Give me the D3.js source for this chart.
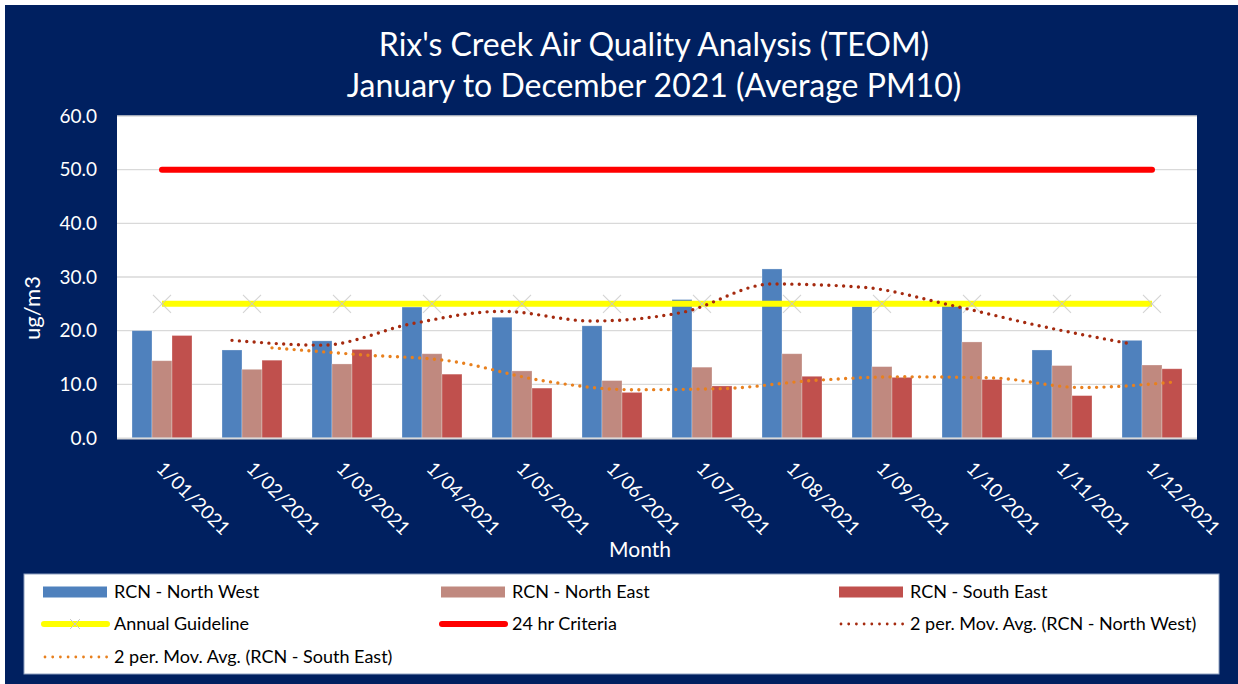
<!DOCTYPE html>
<html>
<head>
<meta charset="utf-8">
<script src="https://cdn.jsdelivr.net/npm/d3@7"></script>
<style>
  html, body { margin: 0; padding: 0; background: #ffffff; }
  svg { display: block; }
  text { font-family: Lato, "Open Sans", sans-serif; }
</style>
</head>
<body>
<svg id="chart" width="1238" height="684"></svg>
<script>
// ---- data ----
const categories = ["1/01/2021","1/02/2021","1/03/2021","1/04/2021","1/05/2021","1/06/2021",
                    "1/07/2021","1/08/2021","1/09/2021","1/10/2021","1/11/2021","1/12/2021"];
const seriesNames = ["RCN - North West", "RCN - North East", "RCN - South East"];
const northWest = [20.0, 16.4, 18.1, 24.4, 22.5, 20.9, 25.8, 31.5, 24.5, 24.6, 16.4, 18.2];
const northEast = [14.4, 12.8, 13.8, 15.7, 12.5, 10.7, 13.2, 15.7, 13.3, 17.9, 13.5, 13.6];
const southEast = [19.1, 14.5, 16.5, 11.9, 9.3, 8.5, 9.7, 11.5, 11.3, 10.9, 7.9, 12.9];
const annualGuideline = [25, 25, 25, 25, 25, 25, 25, 25, 25, 25, 25, 25];
const criteria24hr = [50, 50, 50, 50, 50, 50, 50, 50, 50, 50, 50, 50];
// 2-period moving averages (Feb..Dec)
const maNorthWest = [18.2, 17.3, 21.3, 23.6, 21.8, 23.4, 28.7, 28.1, 24.7, 20.8, 17.5];
const maSouthEast = [16.8, 15.5, 14.3, 10.7, 9.0, 9.2, 10.7, 11.4, 11.2, 9.4, 10.4];
const yTicks = [0, 10, 20, 30, 40, 50, 60];

const titleLines = ["Rix's Creek Air Quality Analysis (TEOM)", "January to December 2021 (Average PM10)"];
const colors = {
  "RCN - North West": "#4F81BD",
  "RCN - North East": "#C0897F",
  "RCN - South East": "#C0504D"
};

// ---- layout ----
const svg = d3.select("#chart");
const W = 1238, H = 684;
const plot = { left: 117, right: 1197, top: 116, bottom: 438 };

svg.append("rect").attr("x", 0).attr("y", 0).attr("width", W).attr("height", H).attr("fill", "#ffffff");
svg.append("rect").attr("x", 5).attr("y", 5).attr("width", W - 5).attr("height", H - 5).attr("fill", "#002060");

// title
svg.append("g").selectAll("text").data(titleLines).join("text")
  .attr("x", 654).attr("y", (d, i) => 56 + i * 41)
  .attr("text-anchor", "middle").attr("fill", "#ffffff")
  .attr("font-size", 32).text(d => d);

// plot background
svg.append("rect").attr("x", plot.left).attr("y", plot.top)
  .attr("width", plot.right - plot.left).attr("height", plot.bottom - plot.top)
  .attr("fill", "#ffffff");

const x0 = d3.scaleBand().domain(categories).range([plot.left, plot.right])
  .paddingInner(1 / 3).paddingOuter(1 / 6);
const x1 = d3.scaleBand().domain(seriesNames).range([0, x0.bandwidth()]);
const y = d3.scaleLinear().domain([0, 60]).range([plot.bottom, plot.top]);
const cx = c => x0(c) + x0.bandwidth() / 2;

// gridlines
svg.append("g").selectAll("line").data(yTicks.filter(t => t > 0)).join("line")
  .attr("x1", plot.left).attr("x2", plot.right)
  .attr("y1", d => y(d)).attr("y2", d => y(d))
  .attr("stroke", "#D9D9D9").attr("stroke-width", 1.3);

// y axis labels
const yAxis = d3.axisLeft(y).tickValues(yTicks).tickFormat(d3.format(".1f")).tickSize(0).tickPadding(20);
const gy = svg.append("g").attr("transform", `translate(${plot.left},0)`).call(yAxis);
gy.select(".domain").remove();
gy.selectAll("text").attr("fill", "#ffffff").attr("font-size", 19).attr("font-family", "Lato, sans-serif");

// bars
const barData = [];
categories.forEach((c, i) => {
  barData.push({ c, s: seriesNames[0], v: northWest[i] });
  barData.push({ c, s: seriesNames[1], v: northEast[i] });
  barData.push({ c, s: seriesNames[2], v: southEast[i] });
});
svg.append("g").selectAll("rect").data(barData).join("rect")
  .attr("x", d => x0(d.c) + x1(d.s))
  .attr("y", d => y(d.v))
  .attr("width", x1.bandwidth())
  .attr("height", d => y(0) - y(d.v))
  .attr("fill", d => colors[d.s])
  .attr("stroke", "#ffffff").attr("stroke-opacity", 0.35).attr("stroke-width", 0.8);

// x axis line
svg.append("line").attr("x1", plot.left).attr("x2", plot.right)
  .attr("y1", plot.bottom + 0.5).attr("y2", plot.bottom + 0.5)
  .attr("stroke", "#D9D9D9").attr("stroke-width", 2);

// horizontal reference lines
const refLine = d3.line().x((d, i) => cx(categories[i])).y(d => y(d));
svg.append("path").datum(criteria24hr).attr("d", refLine)
  .attr("fill", "none").attr("stroke", "#FF0000").attr("stroke-width", 6).attr("stroke-linecap", "round");
svg.append("path").datum(annualGuideline).attr("d", refLine)
  .attr("fill", "none").attr("stroke", "#FFFF00").attr("stroke-width", 6).attr("stroke-linecap", "butt");

// x markers on annual guideline
const mk = 9;
const markers = svg.append("g").selectAll("g").data(annualGuideline).join("g")
  .attr("transform", (d, i) => `translate(${cx(categories[i])},${y(d)})`);
markers.append("line").attr("x1", -mk).attr("y1", -mk).attr("x2", mk).attr("y2", mk);
markers.append("line").attr("x1", -mk).attr("y1", mk).attr("x2", mk).attr("y2", -mk);
markers.selectAll("line").attr("stroke", "#C8C8C8").attr("stroke-width", 1.1).attr("stroke-opacity", 0.8);

// moving averages (aligned on series bar centres, starting at 2nd month)
const nwX = i => x0(categories[i + 1]) + x1(seriesNames[0]) + x1.bandwidth() / 2;
const seX = i => x0(categories[i + 1]) + x1(seriesNames[2]) + x1.bandwidth() / 2;
const maLineNW = d3.line().x((d, i) => nwX(i)).y(d => y(d)).curve(d3.curveMonotoneX);
const maLineSE = d3.line().x((d, i) => seX(i)).y(d => y(d)).curve(d3.curveMonotoneX);
svg.append("path").datum(maSouthEast).attr("d", maLineSE)
  .attr("fill", "none").attr("stroke", "#E8801E").attr("stroke-width", 3.4)
  .attr("stroke-linecap", "round").attr("stroke-dasharray", "0 7.4");
svg.append("path").datum(maNorthWest).attr("d", maLineNW)
  .attr("fill", "none").attr("stroke", "#A52A0F").attr("stroke-width", 3.4)
  .attr("stroke-linecap", "round").attr("stroke-dasharray", "0 7.4");

// x labels rotated
svg.append("g").selectAll("text").data(categories).join("text")
  .attr("transform", d => `translate(${cx(d) + 3},${460}) rotate(45)`)
  .attr("dy", "0.72em")
  .attr("text-anchor", "start").attr("fill", "#ffffff").attr("font-size", 19)
  .text(d => d);

// axis titles
svg.append("text").attr("x", 640).attr("y", 557).attr("text-anchor", "middle")
  .attr("fill", "#ffffff").attr("font-size", 21).text("Month");
svg.append("text").attr("transform", "translate(40,308) rotate(-90)").attr("text-anchor", "middle")
  .attr("fill", "#ffffff").attr("font-size", 22).text("ug/m3");

// legend
svg.append("rect").attr("x", 24).attr("y", 574).attr("width", 1195).attr("height", 100)
  .attr("fill", "#ffffff").attr("stroke", "#8EA0C0").attr("stroke-width", 1);
const legendItems = [
  { label: seriesNames[0], type: "bar", color: colors[seriesNames[0]], col: 0, row: 0 },
  { label: seriesNames[1], type: "bar", color: colors[seriesNames[1]], col: 1, row: 0 },
  { label: seriesNames[2], type: "bar", color: colors[seriesNames[2]], col: 2, row: 0 },
  { label: "Annual Guideline", type: "lineX", color: "#FFFF00", col: 0, row: 1 },
  { label: "24 hr Criteria", type: "line", color: "#FF0000", col: 1, row: 1 },
  { label: "2 per. Mov. Avg. (RCN - North West)", type: "dot", color: "#A52A0F", col: 2, row: 1 },
  { label: "2 per. Mov. Avg. (RCN - South East)", type: "dot", color: "#E8801E", col: 0, row: 2 }
];
const colX = [43, 441, 839];
const rowY = [592, 624, 657];
const lg = svg.append("g").selectAll("g").data(legendItems).join("g")
  .attr("transform", d => `translate(${colX[d.col]},${rowY[d.row]})`);
lg.filter(d => d.type === "bar").append("rect")
  .attr("x", 0).attr("y", -5.5).attr("width", 64).attr("height", 11).attr("fill", d => d.color);
lg.filter(d => d.type === "line" || d.type === "lineX").append("line")
  .attr("x1", 1).attr("x2", 64).attr("y1", 0).attr("y2", 0)
  .attr("stroke", d => d.color).attr("stroke-width", 6).attr("stroke-linecap", "round");
const lx = lg.filter(d => d.type === "lineX");
lx.append("line").attr("x1", 27).attr("x2", 37).attr("y1", -5).attr("y2", 5).attr("stroke", "#C8C8C8").attr("stroke-width", 1);
lx.append("line").attr("x1", 27).attr("x2", 37).attr("y1", 5).attr("y2", -5).attr("stroke", "#C8C8C8").attr("stroke-width", 1);
lg.filter(d => d.type === "dot").append("line")
  .attr("x1", 2).attr("x2", 64).attr("y1", 0).attr("y2", 0)
  .attr("stroke", d => d.color).attr("stroke-width", 2.8)
  .attr("stroke-linecap", "round").attr("stroke-dasharray", "0 7.7");
lg.append("text").attr("x", 71).attr("y", 0).attr("dy", "0.36em")
  .attr("fill", "#000000").attr("font-size", 18).text(d => d.label);
</script>
</body>
</html>
